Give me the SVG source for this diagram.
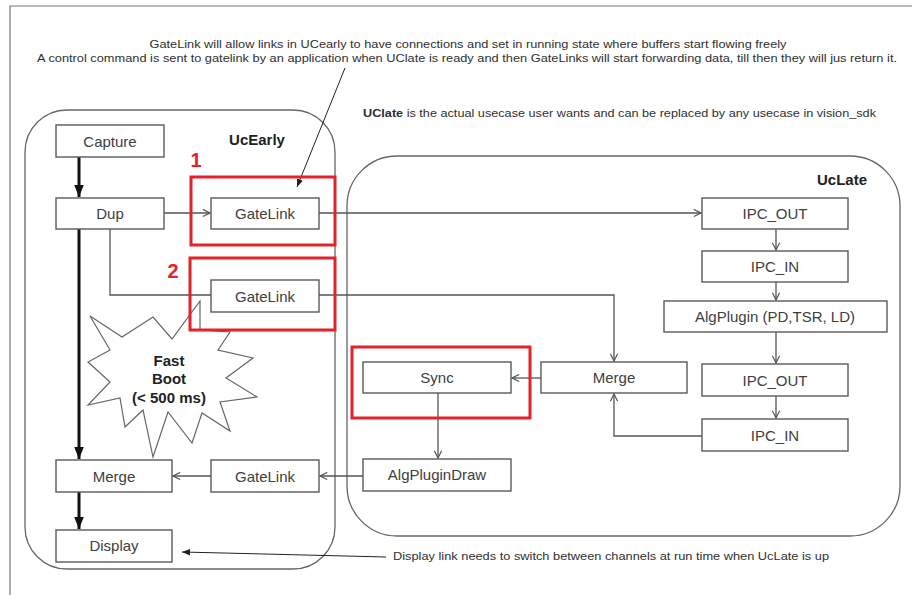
<svg xmlns="http://www.w3.org/2000/svg" width="912" height="595" viewBox="0 0 912 595">
<defs>
<marker id="chev" viewBox="0 0 10 10" refX="9" refY="5" markerWidth="9" markerHeight="9" markerUnits="userSpaceOnUse" orient="auto">
<path d="M1,1 L9,5 L1,9" fill="none" stroke="#555" stroke-width="1.3"/>
</marker>
<marker id="thick" viewBox="0 0 10 10" refX="10" refY="5" markerWidth="12" markerHeight="12" markerUnits="userSpaceOnUse" orient="auto">
<path d="M0,1 L10,5 L0,9 Z" fill="#111"/>
</marker>
<marker id="small" viewBox="0 0 10 10" refX="10" refY="5" markerWidth="8" markerHeight="8" markerUnits="userSpaceOnUse" orient="auto">
<path d="M0,1 L10,5 L0,9 Z" fill="#222"/>
</marker>
</defs>
<style>
.box{fill:#fff;stroke:#5a5a5a;stroke-width:1.4}
.lbl{font-family:"Liberation Sans",Arial,sans-serif;font-size:15px;fill:#404040;text-anchor:middle;dominant-baseline:central}
.note{font-family:"Liberation Sans",Arial,sans-serif;font-size:11px;fill:#303030}
.title{font-family:"Liberation Sans",Arial,sans-serif;font-size:15px;font-weight:bold;fill:#222;text-anchor:middle;dominant-baseline:central}
.red{fill:none;stroke:#e3222b;stroke-width:3}
.num{font-family:"Liberation Sans",Arial,sans-serif;font-size:20px;font-weight:bold;fill:#e3222b;text-anchor:middle;dominant-baseline:central}
.con{fill:none;stroke:#555;stroke-width:1.3}
.thk{fill:none;stroke:#111;stroke-width:3}
.cont{fill:none;stroke:#666;stroke-width:1.3}
</style>
<rect width="912" height="595" fill="#fff"/>
<path d="M10,595 L10,6 L912,6" fill="none" stroke="#777" stroke-width="1.2"/>

<g id="notes">
<text class="note" x="468" y="48" text-anchor="middle" textLength="637" lengthAdjust="spacingAndGlyphs">GateLink will allow links in UCearly to have  connections  and set in running  state where  buffers  start flowing  freely</text>
<text class="note" x="467" y="62" text-anchor="middle" textLength="860" lengthAdjust="spacingAndGlyphs">A control command  is sent to gatelink by an application  when  UClate is ready and then  GateLinks  will start forwarding  data, till then they will jus return it.</text>
<text class="note" x="363" y="117" textLength="513" lengthAdjust="spacingAndGlyphs"><tspan font-weight="bold">UClate</tspan> is the  actual usecase user wants  and can  be  replaced  by any usecase  in vision_sdk</text>
<text class="note" x="393" y="560" textLength="436" lengthAdjust="spacingAndGlyphs">Display link needs to switch between  channels at run time when UcLate is up</text>
</g>

<g id="containers">
<rect id="ucearly" x="25" y="110" width="310" height="459" rx="42" class="cont"/>
<rect id="uclate" x="347" y="156" width="553" height="380" rx="50" class="cont"/>
<text class="title" x="257" y="139">UcEarly</text>
<text class="title" x="842" y="179">UcLate</text>
</g>

<g id="fastboot">
<polygon points="90,316 122,337 153,317 172,339 200,301 200,330 230,332 218,350 253,358 226,378 257,397 220,402 230,431 202,413 192,443 168,412 153,457 143,410 125,427 120,398 88,405 110,382 88,362 110,350" fill="#fff" stroke="#666" stroke-width="1.2"/>
<text class="title" x="169" y="360">Fast</text>
<text class="title" x="169" y="378">Boot</text>
<text class="title" x="169" y="397">(&lt; 500 ms)</text>
</g>

<g id="connectors">
<line x1="79" y1="157" x2="79" y2="197" class="thk" marker-end="url(#thick)"/>
<line x1="79" y1="229" x2="79" y2="459" class="thk" marker-end="url(#thick)"/>
<line x1="79" y1="492" x2="79" y2="529" class="thk" marker-end="url(#thick)"/>
<line x1="164" y1="213" x2="210" y2="213" class="con" marker-end="url(#chev)"/>
<polyline points="110,229 110,295 211,295" class="con"/>
<line x1="319" y1="213" x2="701" y2="213" class="con" marker-end="url(#chev)"/>
<polyline points="319,295 614,295 614,361" class="con" marker-end="url(#chev)"/>
<line x1="776" y1="229" x2="776" y2="250" class="con" marker-end="url(#chev)"/>
<line x1="776" y1="282" x2="776" y2="300" class="con" marker-end="url(#chev)"/>
<line x1="776" y1="332" x2="776" y2="363" class="con" marker-end="url(#chev)"/>
<line x1="776" y1="396" x2="776" y2="418" class="con" marker-end="url(#chev)"/>
<polyline points="702,436 614,436 614,394" class="con" marker-end="url(#chev)"/>
<line x1="541" y1="378" x2="512" y2="378" class="con" marker-end="url(#chev)"/>
<line x1="438" y1="393" x2="438" y2="458" class="con" marker-end="url(#chev)"/>
<line x1="363" y1="476" x2="320" y2="476" class="con" marker-end="url(#chev)"/>
<line x1="211" y1="476" x2="173" y2="476" class="con" marker-end="url(#chev)"/>
<line x1="345" y1="68" x2="297" y2="187" stroke="#222" stroke-width="1" marker-end="url(#small)"/>
<line x1="386" y1="557" x2="182" y2="552" stroke="#222" stroke-width="1" marker-end="url(#small)"/>
</g>

<g id="capture"><rect x="56" y="125" width="108" height="32" class="box"/><text class="lbl" x="110" y="141">Capture</text></g>
<g id="dup"><rect x="56" y="198" width="108" height="31" class="box"/><text class="lbl" x="110" y="213">Dup</text></g>
<g id="gatelink1"><rect x="211" y="198" width="108" height="31" class="box"/><text class="lbl" x="265" y="213">GateLink</text></g>
<g id="gatelink2"><rect x="211" y="280" width="108" height="32" class="box"/><text class="lbl" x="265" y="296">GateLink</text></g>
<g id="merge-early"><rect x="56" y="460" width="116" height="32" class="box"/><text class="lbl" x="114" y="476">Merge</text></g>
<g id="gatelink3"><rect x="211" y="460" width="108" height="32" class="box"/><text class="lbl" x="265" y="476">GateLink</text></g>
<g id="display"><rect x="56" y="530" width="116" height="32" class="box"/><text class="lbl" x="114" y="545">Display</text></g>

<g id="ipc-out1"><rect x="702" y="198" width="146" height="31" class="box"/><text class="lbl" x="775" y="213">IPC_OUT</text></g>
<g id="ipc-in1"><rect x="702" y="251" width="146" height="31" class="box"/><text class="lbl" x="775" y="266">IPC_IN</text></g>
<g id="algplugin"><rect x="664" y="301" width="223" height="31" class="box"/><text class="lbl" x="775" y="316">AlgPlugin (PD,TSR, LD)</text></g>
<g id="ipc-out2"><rect x="702" y="364" width="146" height="32" class="box"/><text class="lbl" x="775" y="380">IPC_OUT</text></g>
<g id="ipc-in2"><rect x="702" y="419" width="146" height="32" class="box"/><text class="lbl" x="775" y="435">IPC_IN</text></g>
<g id="merge-late"><rect x="541" y="362" width="146" height="31" class="box"/><text class="lbl" x="614" y="377">Merge</text></g>
<g id="sync"><rect x="363" y="362" width="148" height="31" class="box"/><text class="lbl" x="437" y="377">Sync</text></g>
<g id="algplugindraw"><rect x="363" y="459" width="148" height="32" class="box"/><text class="lbl" x="437" y="474">AlgPluginDraw</text></g>

<g id="highlights">
<rect x="191" y="177" width="144" height="68" class="red"/>
<rect x="190" y="258" width="145" height="72" class="red"/>
<rect x="352" y="347" width="178" height="71" class="red"/>
<text class="num" x="196" y="160">1</text>
<text class="num" x="173" y="271">2</text>
</g>
</svg>
